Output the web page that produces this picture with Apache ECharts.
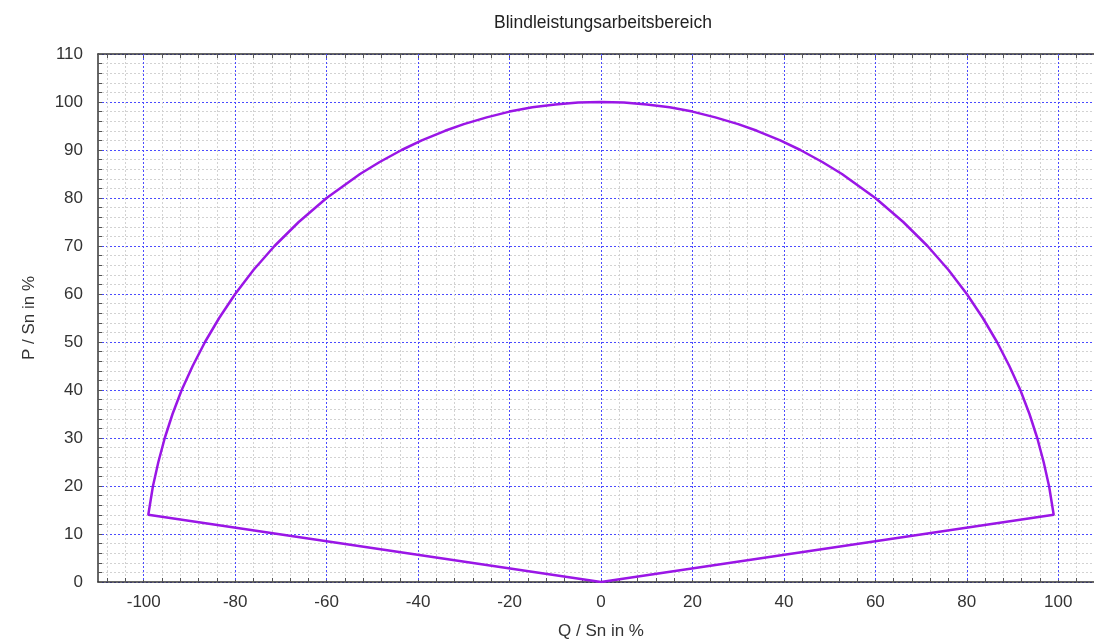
<!DOCTYPE html>
<html><head><meta charset="utf-8">
<script src="https://cdn.jsdelivr.net/npm/echarts@6/dist/echarts.min.js"></script>
<style>html,body{margin:0;padding:0;background:#fff}#c{width:1094px;height:642px}</style>
</head><body><div id="c"></div>
<script>
const chartTitle = 'Blindleistungsarbeitsbereich';
const xName = 'Q / Sn in %';
const yName = 'P / Sn in %';
// Boundary of the operating area (Q, P)
const qValues = [0, -99, -98, -96.8, -95.4, -93.7, -91.7, -89.3, -86.6, -83.5, -80, -76, -71.4, -66.1, -60, -52.7, -48.4, -43.6, -39.2, -34.1, -30, -25, -20, -15, -10, -5, 0, 5, 10, 15, 20, 25, 30, 34.1, 39.2, 43.6, 48.4, 52.7, 60, 66.1, 71.4, 76, 80, 83.5, 86.6, 89.3, 91.7, 93.7, 95.4, 96.8, 98, 99, 0];
const pValues = [0, 14, 19.9, 25, 30, 35, 40, 45, 50, 55, 60, 65, 70, 75, 80, 85, 87.5, 90, 92, 94, 95.4, 96.8, 98, 98.9, 99.5, 99.9, 100, 99.9, 99.5, 98.9, 98, 96.8, 95.4, 94, 92, 90, 87.5, 85, 80, 75, 70, 65, 60, 55, 50, 45, 40, 35, 30, 25, 19.9, 14, 0];
const xRange = [-110, 110];
const yRange = [0, 110];
const xMajorTicks = [-100, -80, -60, -40, -20, 0, 20, 40, 60, 80, 100];
const xMinorTicks = [-108, -104, -100, -96, -92, -88, -84, -80, -76, -72, -68, -64, -60, -56, -52, -48, -44, -40, -36, -32, -28, -24, -20, -16, -12, -8, -4, 0, 4, 8, 12, 16, 20, 24, 28, 32, 36, 40, 44, 48, 52, 56, 60, 64, 68, 72, 76, 80, 84, 88, 92, 96, 100, 104, 108];
const yInterval = 10;

const FONT = '"Liberation Sans", Arial, sans-serif';
const data = qValues.map((q, i) => [q, pValues[i]]);
const axisLineStyle = { color: '#333', width: 1.5 };
const tickStyle = { color: '#555', width: 1 };
const grayGrid = { color: '#d2d2d2', width: 1, type: [2, 2] };
const blueGrid = { color: '#4a4aff', width: 1, type: [2, 2] };

const chart = echarts.init(document.getElementById('c'), null, { renderer: 'canvas' });
chart.setOption({
  animation: false,
  backgroundColor: '#fff',
  title: {
    text: chartTitle, left: 598, top: 9, textAlign: 'center',
    textStyle: { fontFamily: FONT, fontSize: 17.5, fontWeight: 'normal', color: '#222' }
  },
  grid: { left: 98, right: -10, top: 54, bottom: 60, containLabel: false, outerBoundsMode: 'none' },
  xAxis: [
    {
      type: 'value', min: xRange[0], max: xRange[1], position: 'bottom',
      name: xName, nameLocation: 'middle', nameGap: 41,
      nameTextStyle: { fontFamily: FONT, fontSize: 17, color: '#333' },
      axisLine: { show: true, onZero: false, lineStyle: axisLineStyle },
      axisTick: { show: true, inside: true, length: 4, customValues: xMinorTicks, lineStyle: tickStyle },
      axisLabel: { show: true, customValues: xMajorTicks, margin: 12, fontFamily: FONT, fontSize: 17, color: '#333' },
      splitLine: { show: true, lineStyle: grayGrid }
    },
    {
      type: 'value', min: xRange[0], max: xRange[1], position: 'top',
      axisLine: { show: true, onZero: false, lineStyle: axisLineStyle },
      axisTick: { show: true, inside: true, length: 4, customValues: xMinorTicks, lineStyle: tickStyle },
      axisLabel: { show: false },
      splitLine: { show: false }
    },
    {
      type: 'value', min: xRange[0], max: xRange[1], position: 'bottom', z: 1,
      axisLine: { show: false },
      axisTick: { show: false, customValues: xMajorTicks },
      axisLabel: { show: false },
      splitLine: { show: true, lineStyle: blueGrid }
    }
  ],
  yAxis: [
    {
      type: 'value', min: yRange[0], max: yRange[1], interval: yInterval, position: 'left',
      name: yName, nameLocation: 'middle', nameGap: 60, nameRotate: 90,
      nameTextStyle: { fontFamily: FONT, fontSize: 17, color: '#333' },
      axisLine: { show: true, onZero: false, lineStyle: axisLineStyle },
      axisTick: { show: true, inside: true, length: 4, lineStyle: tickStyle },
      minorTick: { show: true, splitNumber: 5, length: 4, lineStyle: tickStyle },
      axisLabel: { show: true, margin: 15, fontFamily: FONT, fontSize: 17, color: '#333' },
      splitLine: { show: true, lineStyle: blueGrid },
      minorSplitLine: { show: true, lineStyle: grayGrid }
    }
  ],
  series: [
    {
      type: 'line', xAxisIndex: 0, yAxisIndex: 0, data: data,
      showSymbol: false, symbol: 'none', smooth: false, z: 5,
      lineStyle: { color: '#9a16e6', width: 2.5 }
    }
  ]
});
</script>
</body></html>
